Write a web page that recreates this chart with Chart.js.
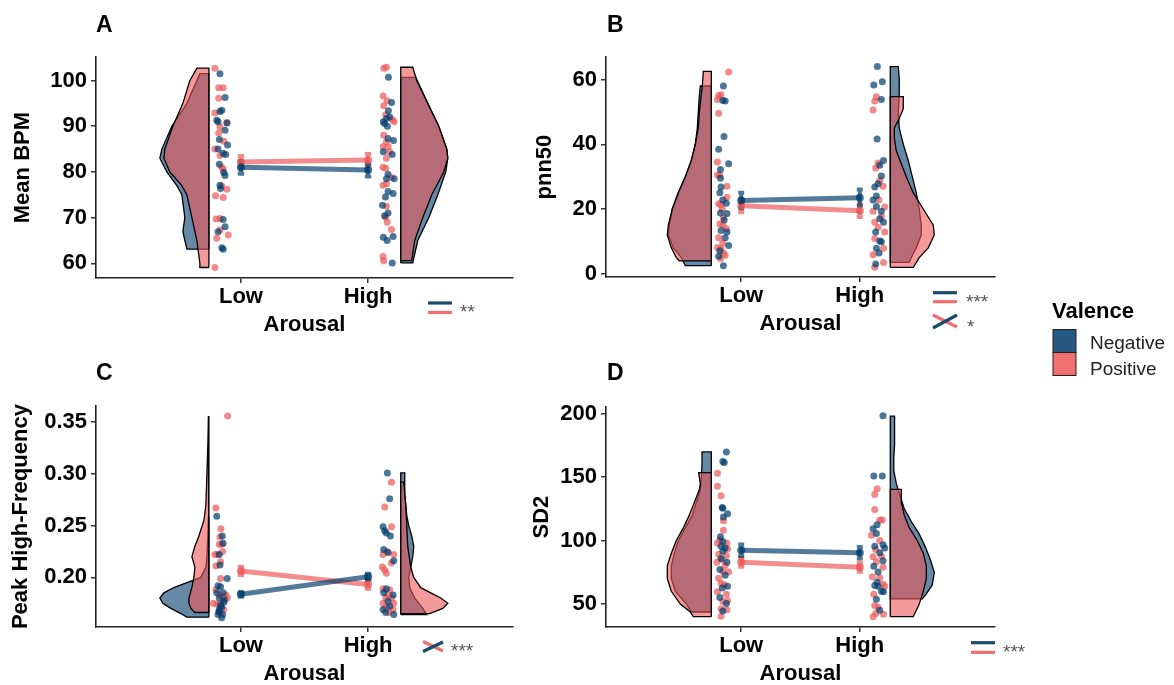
<!DOCTYPE html>
<html>
<head>
<meta charset="utf-8">
<script src="https://cdn.jsdelivr.net/npm/chart.js@4.4.1/dist/chart.umd.min.js"></script>
<style>
  html, body { margin: 0; padding: 0; background: #fff; overflow: hidden; }
  body { width: 1174px; height: 685px; position: relative; font-family: "Liberation Sans", Arial, sans-serif; }
  .panel { position: absolute; }
  #overlay { position: absolute; left: 0; top: 0; pointer-events: none; }
</style>
</head>
<body>
<div class="panel" id="boxA"><canvas id="chartA"></canvas></div>
<div class="panel" id="boxB"><canvas id="chartB"></canvas></div>
<div class="panel" id="boxC"><canvas id="chartC"></canvas></div>
<div class="panel" id="boxD"><canvas id="chartD"></canvas></div>

<svg id="overlay" width="1174" height="685" font-family="Liberation Sans, Arial, sans-serif">
  <g font-weight="bold" font-size="23" fill="#000">
    <text x="96" y="31.5">A</text>
    <text x="607" y="31.5">B</text>
    <text x="96" y="379.5">C</text>
    <text x="607" y="379.5">D</text>
  </g>
  <!-- Valence legend -->
  <text x="1052" y="318" font-size="22" font-weight="bold" fill="#000">Valence</text>
  <rect x="1053" y="329.5" width="23" height="23" fill="#265981" stroke="#222" stroke-width="1"/>
  <rect x="1053" y="352.5" width="23" height="23" fill="#f07070" stroke="#222" stroke-width="1"/>
  <text x="1090" y="348.5" font-size="19" fill="#222">Negative</text>
  <text x="1090" y="375" font-size="19" fill="#222">Positive</text>
  <!-- significance keys -->
  <g stroke-width="3.2" fill="none">
    <line x1="428" y1="303" x2="452" y2="303" stroke="#1b4b6b"/>
    <line x1="428" y1="312.5" x2="452" y2="312.5" stroke="#f07070"/>
    <line x1="933" y1="292.7" x2="957" y2="292.7" stroke="#1b4b6b"/>
    <line x1="933" y1="301.7" x2="957" y2="301.7" stroke="#f07070"/>
    <line x1="933" y1="315" x2="957" y2="327" stroke="#f07070"/>
    <line x1="933" y1="328" x2="957" y2="315" stroke="#1b4b6b"/>
    <line x1="423" y1="641.5" x2="443" y2="651" stroke="#f07070"/>
    <line x1="423" y1="651.5" x2="443" y2="642" stroke="#1b4b6b"/>
    <line x1="971" y1="642.7" x2="995" y2="642.7" stroke="#1b4b6b"/>
    <line x1="971" y1="652.3" x2="995" y2="652.3" stroke="#f07070"/>
  </g>
  <g font-size="19" fill="#555">
    <text x="460" y="317.5">**</text>
    <text x="966" y="308">***</text>
    <text x="967" y="332.7">*</text>
    <text x="451" y="657">***</text>
    <text x="1003" y="658">***</text>
  </g>
</svg>

<script>
// ==================== DATA ====================
const arousal = ['Low', 'High'];

// ---- A: Mean BPM ----
const bpmTicks = [60, 70, 80, 90, 100];
const bpmMeanNeg = [81.0, 80.4];
const bpmMeanPos = [82.2, 82.6];
const bpmSeNeg = [1.4, 1.4];
const bpmSePos = [1.3, 1.3];
// points: [jittered arousal position, value]
const bpmLowNeg = [[0.835,101.5],[0.875,96.3],[0.85,93.5],[0.835,93.2],[0.81,91.3],[0.82,91],[0.89,90.7],[0.875,89.1],[0.83,87.1],[0.895,85.9],[0.82,85],[0.86,84.1],[0.88,83.8],[0.83,81.7],[0.865,79.9],[0.875,79.2],[0.835,77.1],[0.84,76.4],[0.86,69.6],[0.875,68],[0.82,66.9],[0.85,63.4],[0.86,63.1]];
const bpmLowPos = [[0.795,102.7],[0.825,98.4],[0.86,98.4],[0.825,96.1],[0.795,92.9],[0.89,90.8],[0.835,89.9],[0.825,88.5],[0.865,86.7],[0.795,85],[0.835,83.6],[0.85,81],[0.86,80.6],[0.85,76.9],[0.89,76.2],[0.8,74.8],[0.86,74.4],[0.805,69.7],[0.835,69.8],[0.835,67.3],[0.9,66.2],[0.81,65.5],[0.795,59.1]];
const bpmHighNeg = [[2.16,100.7],[2.185,95.2],[2.16,93.4],[2.145,91.7],[2.17,92],[2.12,91],[2.13,90.6],[2.152,90],[2.157,87.3],[2.2,86.9],[2.12,84.4],[2.19,83.8],[2.157,79.5],[2.145,78.5],[2.205,78.5],[2.157,75.7],[2.197,75.3],[2.137,74.5],[2.113,72.7],[2.157,71],[2.13,70.4],[2.197,65.9],[2.12,65.7],[2.15,65],[2.19,60.1]];
const bpmHighPos = [[2.123,102.7],[2.144,102.9],[2.118,96.6],[2.15,95.6],[2.123,94.5],[2.139,92.5],[2.192,91.4],[2.205,91],[2.123,88],[2.144,86.5],[2.118,85.5],[2.157,85.5],[2.17,84.4],[2.144,83],[2.118,81],[2.139,80.8],[2.184,78.8],[2.118,77.1],[2.144,77.4],[2.144,72.5],[2.139,70.1],[2.15,69],[2.184,67.4],[2.118,61.5],[2.123,60.6]];
// half violins: [value, density]
const bpmViolinLowNeg = [[63.1,22],[65,24],[67,26],[70,24],[75,27],[77,32],[80,42],[83,49],[85,47],[90,37],[95,22],[101.5,9]];
const bpmViolinLowPos = [[59.1,9],[60,9],[65,12],[70,17],[75,22],[77,27],[80,39],[83,45],[85,44],[90,36],[95,26],[100,19],[102.7,12]];
const bpmViolinHighNeg = [[60.1,12],[65,17],[70,28],[75,37],[80,45],[83,47],[85,46],[90,38],[95,27],[100.7,15]];
const bpmViolinHighPos = [[60.6,11],[65,14],[70,22],[75,31],[80,43],[83,47],[85,46],[90,38],[95,27],[100,16],[102.9,12]];

// ---- B: pnn50 ----
const pnnTicks = [0, 20, 40, 60];
const pnnMeanNeg = [22.6, 23.5];
const pnnMeanPos = [21.0, 19.5];
const pnnSeNeg = [2.4, 2.5];
const pnnSePos = [2.0, 2.0];
const pnnLowNeg = [[0.85,58],[0.845,53.5],[0.865,53.4],[0.855,42.4],[0.81,38.5],[0.894,34],[0.825,32.2],[0.825,29.5],[0.83,26.8],[0.82,25],[0.845,22.8],[0.875,21.8],[0.825,18.8],[0.88,18.6],[0.857,16.6],[0.83,13.4],[0.88,12.9],[0.865,11.1],[0.894,8.7],[0.82,7.1],[0.81,5.4],[0.85,2.5]];
const pnnLowPos = [[0.894,62.3],[0.81,55],[0.83,55.3],[0.8,53.8],[0.81,49.6],[0.8,34.5],[0.8,30.5],[0.82,30.5],[0.88,27],[0.88,23.6],[0.81,21.6],[0.83,21.3],[0.84,20],[0.85,17.3],[0.82,15.4],[0.845,15.1],[0.875,13.9],[0.81,11.1],[0.845,9.4],[0.8,8.1],[0.83,7.7],[0.85,6.4],[0.865,5.7],[0.825,4.7]];
const pnnHighNeg = [[2.148,64],[2.118,58.3],[2.19,59.3],[2.182,53.8],[2.146,41.6],[2.2,35],[2.168,33.5],[2.182,30.2],[2.126,26.8],[2.154,27.8],[2.14,24],[2.112,22.8],[2.14,20.8],[2.182,19.3],[2.168,17],[2.2,15.9],[2.134,12.9],[2.168,10.1],[2.182,9.9],[2.14,7.9],[2.162,6.4],[2.134,3]];
const pnnHighPos = [[2.14,54.7],[2.126,53.4],[2.112,50.6],[2.154,34.2],[2.134,32.7],[2.168,28.7],[2.196,27],[2.162,22.8],[2.21,20.6],[2.112,19.3],[2.182,17.8],[2.126,15.9],[2.154,14.4],[2.21,12.9],[2.126,10.9],[2.2,7.9],[2.112,5.9],[2.2,3.5],[2.126,2]];
const pnnViolinLowNeg = [[2.5,26],[5,30],[8,38],[12,43],[15,42],[20,39],[25,33],[30,26],[35,20],[40,16],[45,14],[50,13],[55,12],[58,11]];
const pnnViolinLowPos = [[4,32],[5,35],[8,40],[12,44],[15,43],[20,39],[25,33],[30,26],[35,20],[40,16],[45,13],[50,12],[58,9],[62.5,8]];
const pnnViolinHighNeg = [[3.5,19],[5,21],[8,26],[12,31],[15,31],[20,29],[25,26],[30,22],[35,18],[40,13],[45,9],[50,8],[55,9],[60,9],[64,8]];
const pnnViolinHighPos = [[2,23],[5,29],[8,38],[12,44],[15,43],[20,33],[25,23],[30,16],[34,11],[38,6],[42,4],[45,4],[48,9],[51,13],[54.7,13]];

// ---- C: Peak High-Frequency ----
const hfTicks = [0.20, 0.25, 0.30, 0.35];
const hfMeanNeg = [0.1836, 0.2006];
const hfMeanPos = [0.2062, 0.193];
const hfSeNeg = [0.002, 0.003];
const hfSePos = [0.004, 0.004];
const hfLowNeg = [[0.81,0.259],[0.853,0.24],[0.86,0.233],[0.83,0.222],[0.835,0.212],[0.892,0.199],[0.82,0.192],[0.84,0.191],[0.81,0.185],[0.86,0.185],[0.83,0.18],[0.87,0.178],[0.866,0.176],[0.84,0.173],[0.848,0.171],[0.83,0.169],[0.826,0.167],[0.82,0.164],[0.856,0.164],[0.848,0.161]];
const hfLowPos = [[0.895,0.356],[0.803,0.267],[0.843,0.247],[0.835,0.239],[0.83,0.232],[0.848,0.232],[0.856,0.225],[0.795,0.222],[0.814,0.222],[0.84,0.215],[0.803,0.211],[0.84,0.199],[0.803,0.188],[0.835,0.183],[0.882,0.183],[0.856,0.18],[0.892,0.18],[0.782,0.175],[0.81,0.174],[0.835,0.174],[0.866,0.169],[0.835,0.166]];
const hfHighNeg = [[2.152,0.301],[2.17,0.276],[2.118,0.249],[2.131,0.245],[2.144,0.243],[2.176,0.24],[2.123,0.227],[2.157,0.224],[2.202,0.216],[2.144,0.189],[2.123,0.185],[2.197,0.183],[2.157,0.177],[2.17,0.172],[2.118,0.169],[2.139,0.166],[2.202,0.164]];
const hfHighPos = [[2.184,0.292],[2.131,0.268],[2.184,0.249],[2.15,0.225],[2.118,0.222],[2.202,0.222],[2.184,0.214],[2.113,0.21],[2.131,0.207],[2.144,0.204],[2.118,0.189],[2.17,0.188],[2.157,0.183],[2.139,0.18],[2.184,0.18],[2.118,0.175],[2.202,0.175],[2.144,0.171],[2.197,0.169],[2.165,0.166]];
const hfViolinLowNeg = [[0.1615,22],[0.165,28],[0.17,38],[0.175,46],[0.18,49],[0.185,45],[0.19,35],[0.195,22],[0.2,8],[0.21,3],[0.22,2],[0.24,1],[0.259,0.5]];
const hfViolinLowPos = [[0.166,14],[0.17,18],[0.175,20],[0.18,20],[0.19,17],[0.2,15],[0.21,14],[0.22,17],[0.23,14],[0.24,10],[0.255,5],[0.27,3],[0.3,2],[0.33,1],[0.356,0.5]];
const hfViolinHighNeg = [[0.164,26],[0.17,22],[0.18,14],[0.19,9],[0.2,8],[0.21,10],[0.22,12],[0.23,13],[0.24,11],[0.25,8],[0.26,6],[0.28,4],[0.301,4]];
const hfViolinHighPos = [[0.165,29],[0.17,42],[0.175,47],[0.18,40],[0.185,30],[0.19,20],[0.2,13],[0.21,10],[0.23,7],[0.25,6],[0.27,5],[0.292,3]];

// ---- D: SD2 ----
const sdTicks = [50, 100, 150, 200];
const sdMeanNeg = [92.4, 90.4];
const sdMeanPos = [82.8, 79.0];
const sdSeNeg = [4.5, 4.5];
const sdSePos = [3.5, 3.5];
const sdLowNeg = [[0.875,169.8],[0.845,162.2],[0.857,161.5],[0.84,126.1],[0.845,125.5],[0.885,121.1],[0.85,118.6],[0.825,103],[0.845,99.2],[0.83,95.4],[0.865,94.1],[0.845,91.6],[0.83,85.8],[0.88,82.8],[0.82,77.2],[0.865,72.7],[0.885,63.9],[0.84,62.6],[0.82,55.1],[0.875,50.5],[0.845,44.5]];
const sdLowPos = [[0.8,152.9],[0.8,142.8],[0.83,135.2],[0.85,115.6],[0.85,108],[0.82,100.4],[0.88,97.9],[0.8,97.9],[0.885,93.4],[0.81,89.1],[0.875,88.3],[0.84,84.8],[0.795,82.8],[0.865,80.3],[0.845,75.7],[0.894,75.2],[0.81,70.2],[0.83,66.4],[0.857,65.1],[0.8,59.6],[0.875,57.6],[0.845,52],[0.885,52.5],[0.83,46.2],[0.88,45.5],[0.83,40.4]];
const sdHighNeg = [[2.196,198.2],[2.118,150.8],[2.19,150.8],[2.146,112.5],[2.112,109.2],[2.14,105.5],[2.196,96.7],[2.126,95.4],[2.21,94.1],[2.168,90.4],[2.196,84],[2.118,79.8],[2.154,75.2],[2.146,67.2],[2.126,64.6],[2.154,63.9],[2.182,60.1],[2.2,59.6],[2.14,53.8],[2.168,45]];
const sdHighPos = [[2.146,140.8],[2.126,136.2],[2.126,124.4],[2.168,116.1],[2.19,116.1],[2.098,104.2],[2.168,100],[2.134,92.9],[2.112,87.3],[2.182,87.8],[2.14,83.3],[2.196,79],[2.106,71.4],[2.168,70.7],[2.196,65.6],[2.21,63.9],[2.118,57.6],[2.126,48.8],[2.154,47.5],[2.2,42],[2.112,40],[2.134,42.5]];
const sdViolinLowNeg = [[43.7,20],[50,25],[60,36],[70,40],[80,40],[90,37],[100,33],[110,26],[120,19],[130,15],[140,11],[150,10],[160,9.3],[169.8,9.3]];
const sdViolinLowPos = [[40,18],[43.7,21],[50,31],[60,40],[70,44],[80,44],[90,40],[100,35],[110,28],[120,22],[130,17],[140,12],[145,11],[153.4,12.7]];
const sdViolinHighNeg = [[54,32],[58,36],[65,42],[75,44],[85,40],[95,35],[105,29],[115,21],[125,14],[135,10],[145,6],[155,3.5],[165,3.5],[175,4.3],[185,4.3],[198,4.3]];
const sdViolinHighPos = [[40,23],[50,29],[60,33],[70,36],[80,36],[90,33],[100,27],[110,19],[120,14],[130,11],[140.3,11]];

// ==================== STYLE ====================
const NEG = [0, 60, 107];
const POS = [237, 87, 87];
const rgba = (c, a) => `rgba(${c[0]},${c[1]},${c[2]},${a})`;
const FONT = "'Liberation Sans', Arial, sans-serif";
const X_AXIS_H = 60;
const LOW_EDGE = 0.748;
const HIGH_EDGE = 2.257;

// ==================== PANELS ====================
const PANELS = [
  { id: 'A', canvasLeft: 0, top: 48, bottom: 278, right: 513, titlePad: 9.3, title: 'Mean BPM',
    yMin: 56.8, yMax: 105.1, ticks: bpmTicks, dp: 0, pxPerUnit: 127,
    violins: [bpmViolinLowNeg, bpmViolinLowPos, bpmViolinHighNeg, bpmViolinHighPos],
    points: [bpmLowNeg, bpmLowPos, bpmHighNeg, bpmHighPos],
    meanNeg: bpmMeanNeg, meanPos: bpmMeanPos, seNeg: bpmSeNeg, sePos: bpmSePos },
  { id: 'B', canvasLeft: 520, top: 48, bottom: 277, right: 995, titlePad: 11.4, title: 'pnn50',
    yMin: -1.0, yMax: 66.9, ticks: pnnTicks, dp: 0, pxPerUnit: 118.6,
    violins: [pnnViolinLowNeg, pnnViolinLowPos, pnnViolinHighNeg, pnnViolinHighPos],
    points: [pnnLowNeg, pnnLowPos, pnnHighNeg, pnnHighPos],
    meanNeg: pnnMeanNeg, meanPos: pnnMeanPos, seNeg: pnnSeNeg, sePos: pnnSePos },
  { id: 'C', canvasLeft: 0, top: 397, bottom: 627, right: 513, titlePad: 7.8, title: 'Peak High-Frequency',
    yMin: 0.152, yMax: 0.3655, ticks: hfTicks, dp: 2, pxPerUnit: 127,
    violins: [hfViolinLowNeg, hfViolinLowPos, hfViolinHighNeg, hfViolinHighPos],
    points: [hfLowNeg, hfLowPos, hfHighNeg, hfHighPos],
    meanNeg: hfMeanNeg, meanPos: hfMeanPos, seNeg: hfSeNeg, sePos: hfSePos },
  { id: 'D', canvasLeft: 520, top: 398, bottom: 627, right: 995, titlePad: 8.5, title: 'SD2',
    yMin: 31.9, yMax: 205, ticks: sdTicks, dp: 0, pxPerUnit: 118.6,
    violins: [sdViolinLowNeg, sdViolinLowPos, sdViolinHighNeg, sdViolinHighPos],
    points: [sdLowNeg, sdLowPos, sdHighNeg, sdHighPos],
    meanNeg: sdMeanNeg, meanPos: sdMeanPos, seNeg: sdSeNeg, sePos: sdSePos }
];

// ==================== HELPERS ====================
function violinShape(pairs, edge, side, scale) {
  const pts = [{ x: edge, y: pairs[0][0] }];
  pairs.forEach(([y, d]) => pts.push({ x: edge + side * d * scale, y: y }));
  pts.push({ x: edge, y: pairs[pairs.length - 1][0] });
  pts.push({ x: edge, y: pairs[0][0] });
  return pts;
}

function violinDataset(pairs, edge, side, scale, color, order) {
  return {
    data: violinShape(pairs, edge, side, scale),
    borderColor: '#000',
    borderWidth: 1.3,
    backgroundColor: rgba(color, 0.6),
    fill: 'shape',
    pointRadius: 0,
    tension: 0,
    order: order
  };
}

function pointDataset(pairs, color) {
  return {
    data: pairs.map(([x, y]) => ({ x: x, y: y })),
    showLine: false,
    pointRadius: 3.5,
    pointBorderWidth: 0,
    pointBackgroundColor: rgba(color, 0.7),
    order: 5
  };
}

function meanDataset(means, color) {
  return {
    data: means.map((m, i) => ({ x: i + 1, y: m })),
    borderColor: rgba(color, 0.68),
    borderWidth: 5,
    pointRadius: 4,
    pointBorderWidth: 0,
    pointBackgroundColor: rgba(color, 0.75),
    order: 1
  };
}

function errorDataset(mean, se, x, color) {
  const c = 0.025;
  const lo = mean - se, hi = mean + se;
  return {
    data: [
      { x: x - c, y: lo }, { x: x + c, y: lo }, { x: x, y: lo },
      { x: x, y: hi }, { x: x - c, y: hi }, { x: x + c, y: hi }
    ],
    borderColor: rgba(color, 0.7),
    borderWidth: 4,
    pointRadius: 0,
    order: 2
  };
}

// ==================== BUILD ====================
PANELS.forEach(p => {
  const canvasTop = p.top - 8;
  const width = p.right + 10 - p.canvasLeft;
  const height = p.bottom - canvasTop + X_AXIS_H;
  const box = document.getElementById('box' + p.id);
  box.style.left = p.canvasLeft + 'px';
  box.style.top = canvasTop + 'px';
  const canvas = document.getElementById('chart' + p.id);
  canvas.width = width;
  canvas.height = height;
  canvas.style.width = width + 'px';
  canvas.style.height = height + 'px';

  const k = 1 / p.pxPerUnit;
  const [vLN, vLP, vHN, vHP] = p.violins;
  const [ptLN, ptLP, ptHN, ptHP] = p.points;

  const datasets = [
    violinDataset(vLN, LOW_EDGE, -1, k, NEG, 10),
    violinDataset(vLP, LOW_EDGE, -1, k, POS, 9),
    violinDataset(vHN, HIGH_EDGE, 1, k, NEG, 10),
    violinDataset(vHP, HIGH_EDGE, 1, k, POS, 9),
    pointDataset(ptLN, NEG),
    pointDataset(ptLP, POS),
    pointDataset(ptHN, NEG),
    pointDataset(ptHP, POS),
    errorDataset(p.meanNeg[0], p.seNeg[0], 1, NEG),
    errorDataset(p.meanNeg[1], p.seNeg[1], 2, NEG),
    errorDataset(p.meanPos[0], p.sePos[0], 1, POS),
    errorDataset(p.meanPos[1], p.sePos[1], 2, POS),
    meanDataset(p.meanNeg, NEG),
    meanDataset(p.meanPos, POS)
  ];

  new Chart(canvas.getContext('2d'), {
    type: 'line',
    data: { datasets: datasets },
    options: {
      responsive: false,
      animation: false,
      events: [],
      layout: { padding: { left: 0, top: 8, right: 10, bottom: 0 } },
      plugins: { legend: { display: false }, tooltip: { enabled: false } },
      scales: {
        x: {
          type: 'linear',
          min: -0.14,
          max: 3.14,
          afterBuildTicks: s => { s.ticks = [{ value: 1 }, { value: 2 }]; },
          afterFit: s => { s.height = X_AXIS_H; },
          ticks: {
            autoSkip: false, maxRotation: 0, padding: 1, color: '#000',
            font: { family: FONT, size: 22, weight: 'bold' },
            callback: v => arousal[v - 1]
          },
          grid: { display: true, drawOnChartArea: false, drawTicks: true, tickLength: 5, color: '#333', lineWidth: 1.5 },
          border: { display: true, color: '#222', width: 1.6 },
          title: {
            display: true, text: 'Arousal', color: '#000',
            font: { family: FONT, size: 22, weight: 'bold' },
            padding: { top: 0, bottom: 0 }
          }
        },
        y: {
          type: 'linear',
          min: p.yMin,
          max: p.yMax,
          afterBuildTicks: s => { s.ticks = p.ticks.map(v => ({ value: v })); },
          afterFit: s => { s.width = 606 - p.canvasLeft - (p.canvasLeft === 0 ? 510 : 0); },
          ticks: {
            autoSkip: false, padding: 4, color: '#000',
            font: { family: FONT, size: 22, weight: 'bold' },
            callback: v => v.toFixed(p.dp)
          },
          grid: { display: true, drawOnChartArea: false, drawTicks: true, tickLength: 5, color: '#333', lineWidth: 1.5 },
          border: { display: true, color: '#222', width: 1.6 },
          title: {
            display: true, text: p.title, color: '#000',
            font: { family: FONT, size: 22, weight: 'bold' },
            padding: { top: p.titlePad, bottom: 0 }
          }
        }
      }
    }
  });
});
</script>
</body>
</html>
